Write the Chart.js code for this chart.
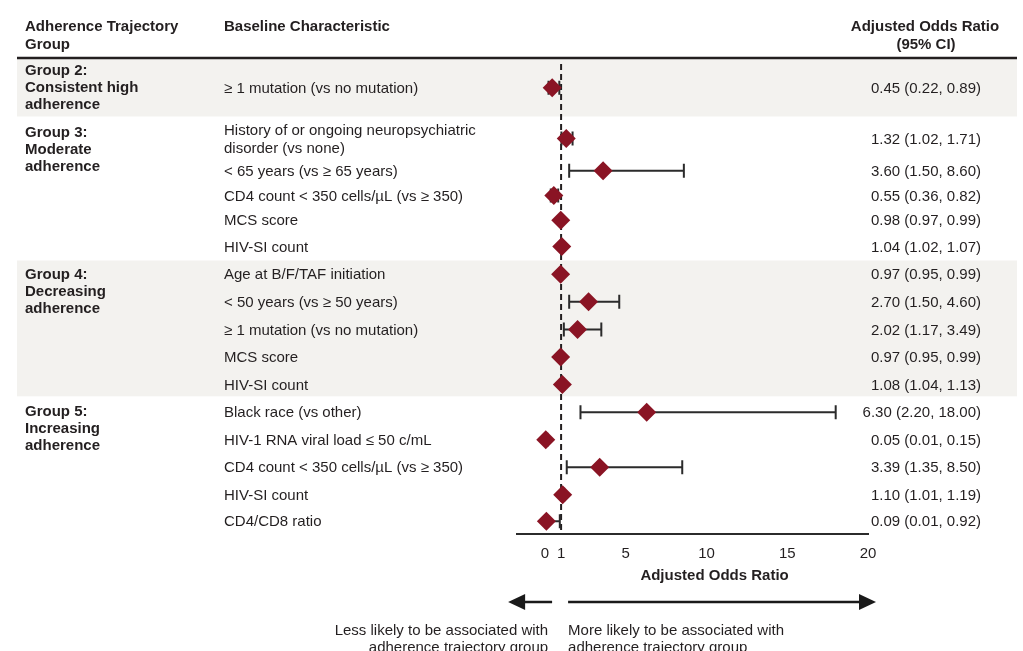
<!DOCTYPE html>
<html>
<head>
<meta charset="utf-8">
<script src="https://cdn.jsdelivr.net/npm/chart.js@4/dist/chart.umd.min.js"></script>
<style>
  body { margin: 0; background: #fff; }
  #wrap { width: 1023px; height: 651px; }
</style>
</head>
<body>
<div id="wrap"><canvas id="forest" width="1023" height="651"></canvas></div>
<script>
// data
const groupLabels = [
  ['Group 2:', 'Consistent high', 'adherence'],
  ['Group 3:', 'Moderate', 'adherence'],
  ['Group 4:', 'Decreasing', 'adherence'],
  ['Group 5:', 'Increasing', 'adherence']
];
const groupSizes = [1, 5, 5, 5];
const characteristics = [
  '\u2265 1 mutation (vs no mutation)',
  'History of or ongoing neuropsychiatric\ndisorder (vs none)',
  '< 65 years (vs \u2265 65 years)',
  'CD4 count < 350 cells/\u00b5L (vs \u2265 350)',
  'MCS score',
  'HIV-SI count',
  'Age at B/F/TAF initiation',
  '< 50 years (vs \u2265 50 years)',
  '\u2265 1 mutation (vs no mutation)',
  'MCS score',
  'HIV-SI count',
  'Black race (vs other)',
  'HIV-1 RNA viral load \u2264 50 c/mL',
  'CD4 count < 350 cells/\u00b5L (vs \u2265 350)',
  'HIV-SI count',
  'CD4/CD8 ratio'
];
const oddsRatios = [0.45, 1.32, 3.60, 0.55, 0.98, 1.04, 0.97, 2.70, 2.02, 0.97, 1.08, 6.30, 0.05, 3.39, 1.10, 0.09];
const ciLower = [0.22, 1.02, 1.50, 0.36, 0.97, 1.02, 0.95, 1.50, 1.17, 0.95, 1.04, 2.20, 0.01, 1.35, 1.01, 0.01];
const ciUpper = [0.89, 1.71, 8.60, 0.82, 0.99, 1.07, 0.99, 4.60, 3.49, 0.99, 1.13, 18.00, 0.15, 8.50, 1.19, 0.92];
const xTicks = [0, 1, 5, 10, 15, 20];

// layout: relative row heights (a plain row = 1)
const rowWeights = [2.23, 1.46, 0.88, 0.91, 0.88, 1.02, 1, 1, 1, 1, 1, 1, 1, 1, 1, 0.92];
const shadedGroups = [0, 2];

const FONT = "'Liberation Sans', Arial, sans-serif";
const TEXT = '#231f20';
const DIAMOND = '#8a1424';

const rowTops = [];
const rowCenters = [];
let acc = 0;
rowWeights.forEach((w) => {
  rowTops.push(acc);
  rowCenters.push(acc + w / 2);
  acc += w;
});
const totalRows = acc;

const ciLabels = oddsRatios.map((v, i) =>
  v.toFixed(2) + ' (' + ciLower[i].toFixed(2) + ', ' + ciUpper[i].toFixed(2) + ')');

const groupStart = [];
groupSizes.reduce((s, n) => { groupStart.push(s); return s + n; }, 0);

const tablePlugin = {
  id: 'forestTable',
  beforeDatasetsDraw(chart) {
    const { ctx, chartArea, scales: { x, y } } = chart;

    // shaded bands
    ctx.save();
    ctx.fillStyle = '#f3f2ef';
    shadedGroups.forEach((g) => {
      const first = groupStart[g];
      const last = first + groupSizes[g] - 1;
      const top = y.getPixelForValue(rowTops[first]);
      const bottom = y.getPixelForValue(rowTops[last] + rowWeights[last]);
      ctx.fillRect(17, top, 1000, bottom - top - 2);
    });

    // header rule
    ctx.strokeStyle = '#231f20';
    ctx.lineWidth = 2.5;
    ctx.beginPath();
    ctx.moveTo(17, chartArea.top + 1);
    ctx.lineTo(1017, chartArea.top + 1);
    ctx.stroke();

    // reference line at OR = 1
    const x1 = x.getPixelForValue(1);
    ctx.setLineDash([6, 4]);
    ctx.lineWidth = 2;
    ctx.beginPath();
    ctx.moveTo(x1, chartArea.top + 7);
    ctx.lineTo(x1, chartArea.bottom);
    ctx.stroke();
    ctx.setLineDash([]);

    // confidence intervals
    ctx.strokeStyle = '#2b2b2b';
    ctx.lineWidth = 2;
    oddsRatios.forEach((v, i) => {
      const yc = y.getPixelForValue(rowCenters[i]);
      const xl = x.getPixelForValue(ciLower[i]);
      const xr = x.getPixelForValue(ciUpper[i]);
      ctx.beginPath();
      ctx.moveTo(xl, yc);
      ctx.lineTo(xr, yc);
      ctx.moveTo(xl, yc - 7);
      ctx.lineTo(xl, yc + 7);
      ctx.moveTo(xr, yc - 7);
      ctx.lineTo(xr, yc + 7);
      ctx.stroke();
    });
    ctx.restore();
  },
  afterDraw(chart) {
    const { ctx, chartArea, scales: { x, y } } = chart;
    ctx.save();
    ctx.fillStyle = TEXT;
    ctx.textBaseline = 'middle';

    // headers
    ctx.font = 'bold 15px ' + FONT;
    ctx.textAlign = 'left';
    ctx.fillText('Adherence Trajectory', 25, 27);
    ctx.fillText('Group', 25, 45);
    ctx.fillText('Baseline Characteristic', 224, 27);
    ctx.textAlign = 'center';
    ctx.fillText('Adjusted Odds Ratio', 925, 27);
    ctx.fillText('(95% CI)', 926, 45);

    // group names
    ctx.textAlign = 'left';
    groupLabels.forEach((lines, g) => {
      const top = y.getPixelForValue(rowTops[groupStart[g]]);
      lines.forEach((line, k) => ctx.fillText(line, 25, top + 14 + k * 17));
    });

    // characteristics and estimates
    ctx.font = '15px ' + FONT;
    characteristics.forEach((label, i) => {
      const yc = y.getPixelForValue(rowCenters[i]);
      const lines = label.split('\n');
      ctx.textAlign = 'left';
      lines.forEach((line, k) => ctx.fillText(line, 224, yc + (k - (lines.length - 1) / 2) * 18 + 1));
      ctx.textAlign = 'right';
      ctx.fillText(ciLabels[i], 981, yc + 1);
    });

    // axis title
    const x1 = x.getPixelForValue(1);
    const x20 = x.getPixelForValue(20);
    ctx.font = 'bold 15px ' + FONT;
    ctx.textAlign = 'center';
    ctx.fillText('Adjusted Odds Ratio', (x1 + x20) / 2, chartArea.bottom + 42);

    // direction arrows
    const ay = chartArea.bottom + 68;
    ctx.strokeStyle = '#1a1a1a';
    ctx.lineWidth = 2.5;
    ctx.beginPath();
    ctx.moveTo(x1 - 9, ay);
    ctx.lineTo(x1 - 40, ay);
    ctx.moveTo(x1 + 7, ay);
    ctx.lineTo(x20 - 5, ay);
    ctx.stroke();
    ctx.fillStyle = '#1a1a1a';
    ctx.beginPath();
    ctx.moveTo(x1 - 53, ay);
    ctx.lineTo(x1 - 36, ay - 8);
    ctx.lineTo(x1 - 36, ay + 8);
    ctx.closePath();
    ctx.fill();
    ctx.beginPath();
    ctx.moveTo(x20 + 8, ay);
    ctx.lineTo(x20 - 9, ay - 8);
    ctx.lineTo(x20 - 9, ay + 8);
    ctx.closePath();
    ctx.fill();

    ctx.fillStyle = TEXT;
    ctx.font = '15px ' + FONT;
    ctx.textAlign = 'right';
    ctx.fillText('Less likely to be associated with', x1 - 13, ay + 29);
    ctx.fillText('adherence trajectory group', x1 - 13, ay + 46);
    ctx.textAlign = 'left';
    ctx.fillText('More likely to be associated with', x1 + 7, ay + 29);
    ctx.fillText('adherence trajectory group', x1 + 7, ay + 46);
    ctx.restore();
  }
};

new Chart(document.getElementById('forest').getContext('2d'), {
  type: 'scatter',
  data: {
    datasets: [{
      data: oddsRatios.map((v, i) => ({ x: v, y: rowCenters[i] })),
      pointStyle: 'rectRot',
      pointRadius: 9.5,
      pointBackgroundColor: DIAMOND,
      pointBorderWidth: 0,
      clip: false
    }]
  },
  options: {
    responsive: false,
    animation: false,
    layout: { padding: { left: 517, right: 155, top: 57, bottom: 77 } },
    plugins: { legend: { display: false }, tooltip: { enabled: false } },
    scales: {
      x: {
        type: 'linear',
        min: -1.73,
        max: 20,
        afterBuildTicks(scale) {
          scale.ticks = xTicks.map((v) => ({ value: v }));
        },
        ticks: {
          autoSkip: false,
          maxRotation: 0,
          padding: 11,
          color: TEXT,
          font: { family: FONT, size: 15 }
        },
        grid: { display: false, drawTicks: false },
        border: { display: true, color: '#2b2b2b', width: 2 }
      },
      y: {
        type: 'linear',
        min: 0,
        max: totalRows,
        reverse: true,
        display: false
      }
    }
  },
  plugins: [tablePlugin]
});
</script>
</body>
</html>
